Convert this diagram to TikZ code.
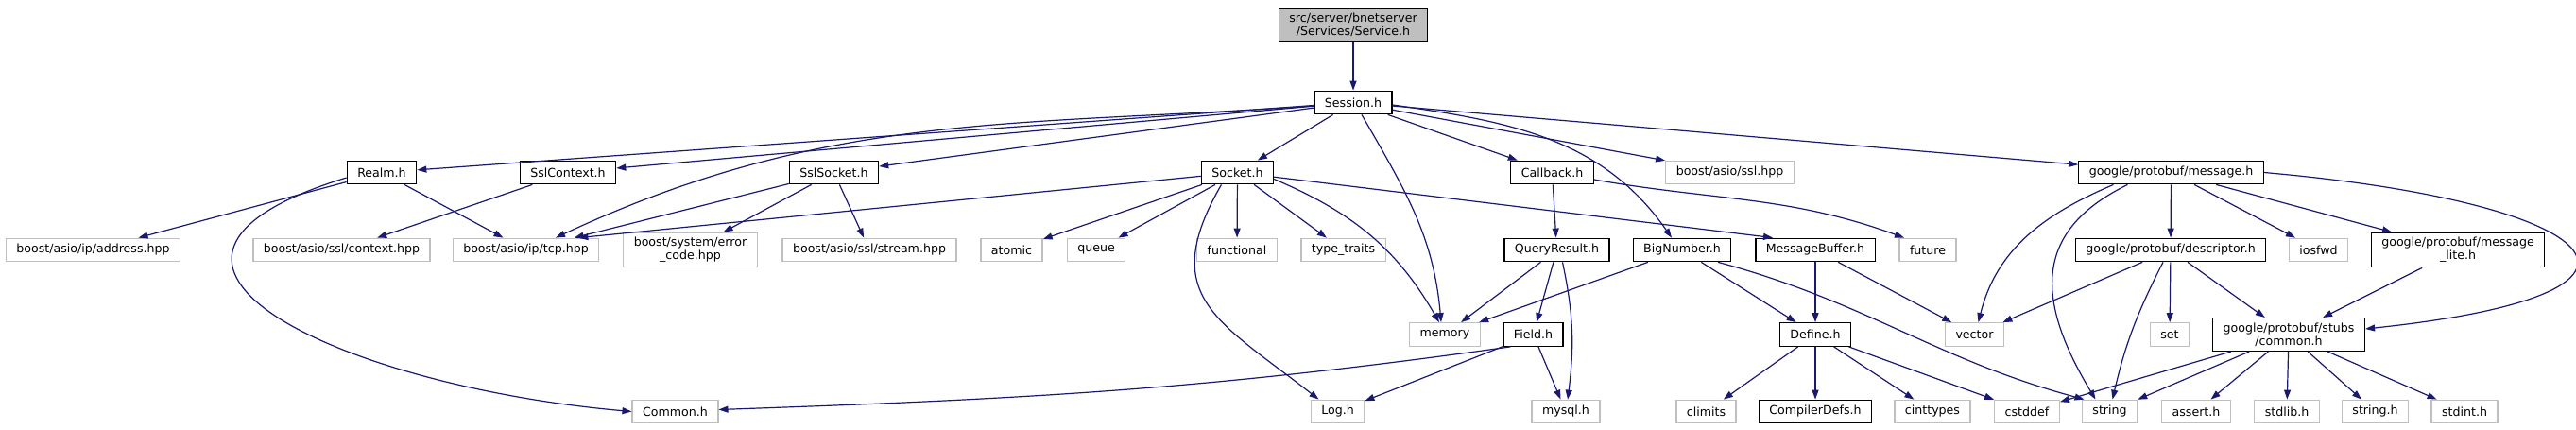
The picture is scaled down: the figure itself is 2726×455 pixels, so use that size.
\documentclass[tikz,border=0pt]{standalone}
\usepackage{fontspec}
\setmainfont{DejaVu Sans}
\usetikzlibrary{arrows.meta}
\definecolor{edgeblue}{HTML}{191970}
\definecolor{extgrey}{HTML}{BFBFBF}

\begin{document}
\begin{tikzpicture}[x=1pt,y=1pt,>={Triangle[length=10pt,width=7pt]},
  every node/.style={font=\fontsize{12.6}{14}\selectfont, align=center, inner xsep=11pt, inner ysep=5pt, minimum height=24.5pt},
  doc/.style={draw=black, line width=1.3pt},
  ext/.style={draw=extgrey, line width=1.3pt},
  mainfile/.style={doc, fill=extgrey},
  every edge/.style={draw=edgeblue, line width=1.2pt}]
\useasboundingbox (0,0) rectangle (2726,-455);
\node[mainfile] (service) at (1432,-26) {src/server/bnetserver\\/Services/Service.h};
\node[doc] (session) at (1432,-108.5) {Session.h};
\node[doc] (realm) at (404,-182.5) {Realm.h};
\node[doc] (sslcontext) at (601,-182.5) {SslContext.h};
\node[doc] (sslsocket) at (882.5,-182.5) {SslSocket.h};
\node[doc] (socket) at (1309.5,-182.5) {Socket.h};
\node[doc] (callback) at (1642.5,-182.5) {Callback.h};
\node[ext] (sslhpp) at (1830.5,-182.5) {boost/asio/ssl.hpp};
\node[doc] (message) at (2297.5,-182.5) {google/protobuf/message.h};
\node[ext] (address) at (98.5,-264.5) {boost/asio/ip/address.hpp};
\node[ext] (context) at (361.5,-264.5) {boost/asio/ssl/context.hpp};
\node[ext] (tcp) at (556.5,-264.5) {boost/asio/ip/tcp.hpp};
\node[ext] (errorcode) at (730.5,-264.5) {boost/system/error\\\_code.hpp};
\node[ext] (stream) at (920,-264.5) {boost/asio/ssl/stream.hpp};
\node[ext] (atomic) at (1070.5,-264.5) {atomic};
\node[ext] (queue) at (1160,-264.5) {queue};
\node[ext] (functional) at (1309,-264.5) {functional};
\node[ext] (typetraits) at (1421.5,-264.5) {type\_traits};
\node[doc] (queryresult) at (1647.5,-264.5) {QueryResult.h};
\node[doc] (bignumber) at (1780,-264.5) {BigNumber.h};
\node[doc] (messagebuffer) at (1921,-264.5) {MessageBuffer.h};
\node[ext] (future) at (2040,-264.5) {future};
\node[doc] (descriptor) at (2297,-264.5) {google/protobuf/descriptor.h};
\node[ext] (iosfwd) at (2453.5,-264.5) {iosfwd};
\node[doc] (messagelite) at (2601,-264.5) {google/protobuf/message\\\_lite.h};
\node[ext] (memory) at (1529,-354) {memory};
\node[doc] (field) at (1622.5,-354) {Field.h};
\node[doc] (define) at (1921,-354) {Define.h};
\node[ext] (vector) at (2089.5,-354) {vector};
\node[ext] (set) at (2296,-354) {set};
\node[doc] (stubscommon) at (2422,-354) {google/protobuf/stubs\\/common.h};
\node[ext] (commonh) at (714.5,-435.5) {Common.h};
\node[ext] (log) at (1415.5,-435.5) {Log.h};
\node[ext] (mysql) at (1657,-435.5) {mysql.h};
\node[ext] (climits) at (1805.5,-435.5) {climits};
\node[doc] (compilerdefs) at (1921,-435.5) {CompilerDefs.h};
\node[ext] (cinttypes) at (2045,-435.5) {cinttypes};
\node[ext] (cstddef) at (2145,-435.5) {cstddef};
\node[ext] (string) at (2232.5,-435.5) {string};
\node[ext] (asserth) at (2324,-435.5) {assert.h};
\node[ext] (stdlibh) at (2420,-435.5) {stdlib.h};
\node[ext] (stringh) at (2513.5,-435.5) {string.h};
\node[ext] (stdinth) at (2608,-435.5) {stdint.h};
\path[->] (service) edge (session);
\path[->] (session) edge (realm);
\path[->] (session) edge (sslcontext);
\path[->] ([yshift=-3.5pt]session.west) edge[out=184,in=25] ([xshift=31.5pt]tcp.north);
\path[->] (session) edge (sslsocket);
\path[->] (session) edge (socket);
\path[->] ([xshift=9pt]session.south) edge[out=-60,in=95] ([xshift=-4pt]memory.north);
\path[->] (session) edge (callback);
\path[->] (session) edge (sslhpp);
\path[->] ([yshift=-2.5pt]session.east) edge[out=-8,in=125] ([xshift=-11pt]bignumber.north);
\path[->] (session) edge (message);
\path[->] (realm) edge (address);
\path[->] (realm) edge (tcp);
\path[->] ([yshift=-5.5pt]realm.west) edge[out=197,in=175,looseness=2] (commonh.west);
\path[->] (sslcontext) edge (context);
\path[->] (sslsocket) edge (tcp);
\path[->] (sslsocket) edge (errorcode);
\path[->] (sslsocket) edge (stream);
\path[->] (socket) edge ([xshift=-22pt]tcp.north east);
\path[->] (socket) edge (atomic);
\path[->] (socket) edge (queue);
\path[->] (socket) edge (functional);
\path[->] (socket) edge (typetraits);
\path[->] ([yshift=-7pt]socket.east) edge[out=-23,in=120] ([xshift=-6pt]memory.north);
\path[->] ([xshift=-17pt]socket.south) edge[out=240,in=142,looseness=1.4] ([xshift=-20pt]log.north);
\path[->] (socket) edge ([xshift=-45pt]messagebuffer.north);
\path[->] (callback) edge (queryresult);
\path[->] ([yshift=-7.5pt]callback.east) edge[out=-10,in=160] ([xshift=-25pt]future.north);
\path[->] (queryresult) edge (memory);
\path[->] (queryresult) edge (field);
\path[->] ([xshift=6pt]queryresult.south) edge[out=-78,in=83] ([xshift=2pt]mysql.north);
\path[->] (bignumber) edge (memory);
\path[->] (bignumber) edge (define);
\path[->] ([xshift=38pt]bignumber.south) edge[out=-15,in=165] ([xshift=-27pt]string.north);
\path[->] (messagebuffer) edge (define);
\path[->] (messagebuffer) edge (vector);
\path[->] ([xshift=8pt]field.south west) edge[out=188,in=2] ([yshift=2pt]commonh.east);
\path[->] (field) edge (log);
\path[->] (field) edge (mysql);
\path[->] (define) edge (climits);
\path[->] (define) edge (compilerdefs);
\path[->] (define) edge (cinttypes);
\path[->] (define) edge (cstddef);
\path[->] ([xshift=-61pt]message.south) edge[out=203,in=76] ([xshift=4pt]vector.north);
\path[->] ([xshift=-46pt]message.south) edge[out=206,in=121,looseness=1.3] ([xshift=-15pt]string.north);
\path[->] (message) edge (descriptor);
\path[->] (message) edge (iosfwd);
\path[->] (message) edge (messagelite);
\path[->] (message.east) edge[out=-5,in=6,looseness=4.7] ([yshift=6pt]stubscommon.east);
\path[->] (descriptor) edge (vector);
\path[->] ([xshift=-8pt]descriptor.south) edge[out=243,in=77] ([xshift=3pt]string.north);
\path[->] (descriptor) edge (set);
\path[->] (descriptor) edge (stubscommon);
\path[->] (messagelite) edge (stubscommon);
\path[->] (stubscommon) edge (cstddef);
\path[->] (stubscommon) edge (string);
\path[->] (stubscommon) edge (asserth);
\path[->] (stubscommon) edge (stdlibh);
\path[->] (stubscommon) edge (stringh);
\path[->] (stubscommon) edge (stdinth);
\end{tikzpicture}
\end{document}
